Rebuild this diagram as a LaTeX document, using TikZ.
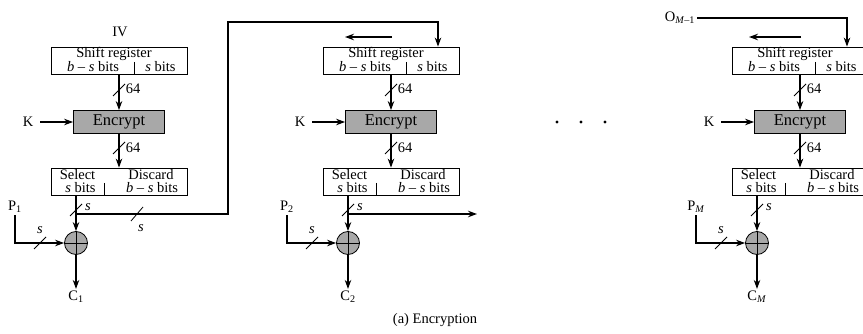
\documentclass[tikz,border=0pt]{standalone}
\usepackage{fontspec}
\setmainfont{Liberation Serif}
\usepackage{xcolor}
\usetikzlibrary{arrows.meta}
\definecolor{blockGray}{RGB}{168,168,168}

\begin{document}
\begin{tikzpicture}[x=1pt, y=-1pt]
    % Styles
    \tikzstyle{register} = [rectangle, draw, line width=0.8pt, minimum width=136pt, minimum height=27pt]
    \tikzstyle{cipher} = [rectangle, draw, line width=0.8pt, fill=blockGray, minimum width=91pt, minimum height=23pt, font=\fontsize{16.5}{18}\selectfont]
    \tikzstyle{xor} = [circle, draw, line width=0.8pt, fill=blockGray, minimum size=23pt, inner sep=0pt,
        path picture={\draw[line width=0.8pt] (path picture bounding box.north) -- (path picture bounding box.south)
                      (path picture bounding box.west) -- (path picture bounding box.east);}]
    \tikzstyle{txt} = [font=\fontsize{14.5}{16}\selectfont, inner sep=2pt]
    \tikzstyle{arrow} = [-{Stealth[length=9pt, width=6.5pt]}, line width=1.3pt]
    \tikzstyle{slash} = [line width=0.8pt]

    \useasboundingbox (0,0) rectangle (863,334);
    \clip (0,0) rectangle (863,334);

    % Nodes, first stage
    \node[register] (sr1) at (119,60.5) {};
    \node[cipher] (enc1) at (119,122) {Encrypt};
    \node[register] (sel1) at (119,181.5) {};
    \node[xor] (xor1) at (76,243) {};
    \node[txt] (iv) at (120,32) {IV};
    \node[txt] (k1) at (28,122) {K};
    \node[txt] (p1) at (15,207) {P\textsubscript{1}};
    \node[txt] (c1) at (76,297) {C\textsubscript{1}};

    % Nodes, second stage
    \node[register] (sr2) at (391,60.5) {};
    \node[cipher] (enc2) at (391,122) {Encrypt};
    \node[register] (sel2) at (391,181.5) {};
    \node[xor] (xor2) at (348,243) {};
    \node[txt] (k2) at (300,122) {K};
    \node[txt] (p2) at (287,207) {P\textsubscript{2}};
    \node[txt] (c2) at (348,297) {C\textsubscript{2}};

    % Nodes, last stage
    \node[register] (sr3) at (800,60.5) {};
    \node[cipher] (enc3) at (800,122) {Encrypt};
    \node[register] (sel3) at (800,181.5) {};
    \node[xor] (xor3) at (757,243) {};
    \node[txt] (om1) at (680,18) {O\textsubscript{\textit{M}–1}};
    \node[txt] (k3) at (709,122) {K};
    \node[txt] (pM) at (696,207) {P\textsubscript{\textit{M}}};
    \node[txt] (cM) at (757,297) {C\textsubscript{\textit{M}}};

    % Labels inside the registers
    \node[txt] (sr1t) at (114,54) {Shift register};
    \node[txt] (sr1l) at (93,67) {\textit{b} – \textit{s} bits};
    \node[txt] (sr1r) at (160.5,67) {\textit{s} bits};
    \node[txt] (sel1a) at (77.5,175) {Select};
    \node[txt] (sel1b) at (80.5,188) {\textit{s} bits};
    \node[txt] (sel1c) at (151,175) {Discard};
    \node[txt] (sel1d) at (152,188) {\textit{b} – \textit{s} bits};
    \draw[line width=0.8pt] (134,62) -- (134,74);
    \draw[line width=0.8pt] (104,183) -- (104,195);

    \node[txt] (sr2t) at (386,54) {Shift register};
    \node[txt] (sr2l) at (365,67) {\textit{b} – \textit{s} bits};
    \node[txt] (sr2r) at (432.5,67) {\textit{s} bits};
    \node[txt] (sel2a) at (349.5,175) {Select};
    \node[txt] (sel2b) at (352.5,188) {\textit{s} bits};
    \node[txt] (sel2c) at (423,175) {Discard};
    \node[txt] (sel2d) at (424,188) {\textit{b} – \textit{s} bits};
    \draw[line width=0.8pt] (406,62) -- (406,74);
    \draw[line width=0.8pt] (376,183) -- (376,195);

    \node[txt] (sr3t) at (795,54) {Shift register};
    \node[txt] (sr3l) at (774,67) {\textit{b} – \textit{s} bits};
    \node[txt] (sr3r) at (841.5,67) {\textit{s} bits};
    \node[txt] (sel3a) at (758.5,175) {Select};
    \node[txt] (sel3b) at (761.5,188) {\textit{s} bits};
    \node[txt] (sel3c) at (832,175) {Discard};
    \node[txt] (sel3d) at (833,188) {\textit{b} – \textit{s} bits};
    \draw[line width=0.8pt] (815,62) -- (815,74);
    \draw[line width=0.8pt] (785,183) -- (785,195);

    % Turning points
    \coordinate (br1) at (76,214);
    \coordinate (up1) at (228,214);
    \coordinate (top1) at (228,22);
    \coordinate (fb2) at (438,22);
    \coordinate (br2) at (348,214);
    \coordinate (out2) at (477,214);
    \coordinate (fb3) at (847,18);
    \coordinate (sh2a) at (392,37);
    \coordinate (sh2b) at (345,37);
    \coordinate (sh3a) at (801,37);
    \coordinate (sh3b) at (749,37);

    % Arrows
    \draw[arrow] (sr1) -- (enc1);
    \draw[arrow] (enc1) -- (sel1);
    \draw[arrow, shorten <=5pt] (k1) -- (enc1);
    \draw[arrow] (sel1.south -| xor1) -- (xor1);
    \draw[arrow] (p1.south) |- (xor1);
    \draw[arrow] (xor1) -- (c1);
    \draw[arrow] (br1) -- (up1) -- (top1) -- (fb2) -- (fb2 |- sr2.north);

    \draw[arrow] (sh2a) -- (sh2b);
    \draw[arrow] (sr2) -- (enc2);
    \draw[arrow] (enc2) -- (sel2);
    \draw[arrow, shorten <=5pt] (k2) -- (enc2);
    \draw[arrow] (sel2.south -| xor2) -- (xor2);
    \draw[arrow] (p2.south) |- (xor2);
    \draw[arrow] (xor2) -- (c2);
    \draw[arrow] (br2) -- (out2);

    \draw[arrow] (om1) -- (fb3) -- (fb3 |- sr3.north);
    \draw[arrow] (sh3a) -- (sh3b);
    \draw[arrow] (sr3) -- (enc3);
    \draw[arrow] (enc3) -- (sel3);
    \draw[arrow, shorten <=5pt] (k3) -- (enc3);
    \draw[arrow] (sel3.south -| xor3) -- (xor3);
    \draw[arrow] (pM.south) |- (xor3);
    \draw[arrow] (xor3) -- (cM);

    % Bus widths
    \draw[slash] (113,96) -- (125,84);   \node[txt] (w1a) at (133,89) {64};
    \draw[slash] (113,154) -- (125,142); \node[txt] (w1b) at (133,148) {64};
    \draw[slash] (70,216) -- (82,204);   \node[txt] (s1a) at (88,207) {\textit{s}};
    \draw[slash] (131,221) -- (143,207); \node[txt] (s1b) at (141,228) {\textit{s}};
    \draw[slash] (34,249) -- (46,237);   \node[txt] (s1c) at (40,230) {\textit{s}};

    \draw[slash] (385,96) -- (397,84);   \node[txt] (w2a) at (405,89) {64};
    \draw[slash] (385,154) -- (397,142); \node[txt] (w2b) at (405,148) {64};
    \draw[slash] (342,216) -- (354,204); \node[txt] (s2a) at (360,207) {\textit{s}};
    \draw[slash] (306,249) -- (318,237); \node[txt] (s2c) at (312,230) {\textit{s}};

    \draw[slash] (794,96) -- (806,84);   \node[txt] (w3a) at (814,89) {64};
    \draw[slash] (794,154) -- (806,142); \node[txt] (w3b) at (814,148) {64};
    \draw[slash] (751,216) -- (763,204); \node[txt] (s3a) at (769,207) {\textit{s}};
    \draw[slash] (715,249) -- (727,237); \node[txt] (s3c) at (721,230) {\textit{s}};

    % Dots and caption
    \fill (557,122) circle (1.6);
    \fill (581,122) circle (1.6);
    \fill (605,122) circle (1.6);
    \node[txt] (caption) at (435,320) {(a) Encryption};
\end{tikzpicture}
\end{document}
